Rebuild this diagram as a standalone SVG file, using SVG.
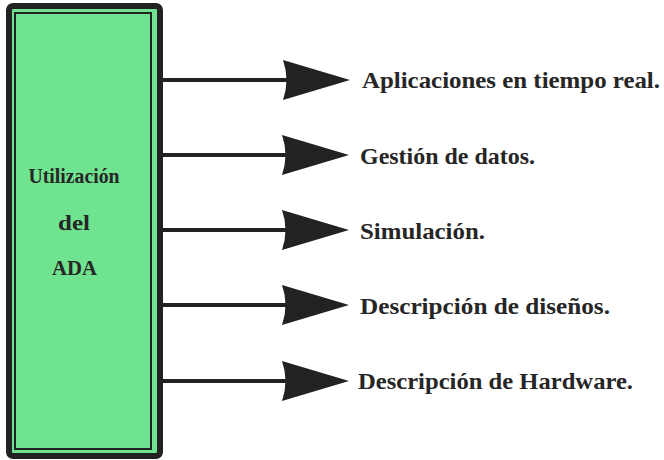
<svg xmlns="http://www.w3.org/2000/svg" width="664" height="460" viewBox="0 0 664 460">
<defs>
<style>
.lbl{font-family:"Liberation Serif","DejaVu Serif",serif;font-weight:bold;font-size:23.5px;fill:#262626}
.box{font-family:"Liberation Serif","DejaVu Serif",serif;font-weight:bold;font-size:20px;fill:#262626;text-anchor:middle}
.ln{stroke:#222;stroke-width:4;fill:none}
.hd{fill:#222}
</style>
<path id="ah" d="M0,0 L-67,-20 Q-60,0 -67,20 Z"/>
</defs>
<rect width="664" height="460" fill="#fff"/>
<g id="node-ada">
<rect x="9" y="6" width="151" height="450" rx="4" fill="#6fe38f" stroke="#222" stroke-width="6"/>
<rect x="15" y="13" width="136" height="436" fill="none" stroke="#222" stroke-width="2"/>
<text class="box" x="74" y="183" textLength="91" lengthAdjust="spacingAndGlyphs">Utilización</text>
<text class="box" x="74" y="230" textLength="32" lengthAdjust="spacingAndGlyphs">del</text>
<text class="box" x="74.5" y="275" textLength="45" lengthAdjust="spacingAndGlyphs">ADA</text>
</g>
<g id="connectors">
<line class="ln" x1="162" y1="80" x2="290" y2="80"/>
<use href="#ah" class="hd" x="350" y="80"/>
<line class="ln" x1="162" y1="155" x2="290" y2="155"/>
<use href="#ah" class="hd" x="349" y="155"/>
<line class="ln" x1="162" y1="230" x2="290" y2="230"/>
<use href="#ah" class="hd" x="349" y="230"/>
<line class="ln" x1="162" y1="305" x2="290" y2="305"/>
<use href="#ah" class="hd" x="349" y="305"/>
<line class="ln" x1="162" y1="381" x2="290" y2="381"/>
<use href="#ah" class="hd" x="349" y="381"/>
</g>
<g id="node-1"><text class="lbl" x="362" y="88" textLength="298" lengthAdjust="spacingAndGlyphs">Aplicaciones en tiempo real.</text></g>
<g id="node-2"><text class="lbl" x="360" y="164" textLength="175" lengthAdjust="spacingAndGlyphs">Gestión de datos.</text></g>
<g id="node-3"><text class="lbl" x="360" y="239" textLength="125" lengthAdjust="spacingAndGlyphs">Simulación.</text></g>
<g id="node-4"><text class="lbl" x="360" y="314" textLength="250" lengthAdjust="spacingAndGlyphs">Descripción de diseños.</text></g>
<g id="node-5"><text class="lbl" x="358" y="389" textLength="275" lengthAdjust="spacingAndGlyphs">Descripción de Hardware.</text></g>
</svg>
